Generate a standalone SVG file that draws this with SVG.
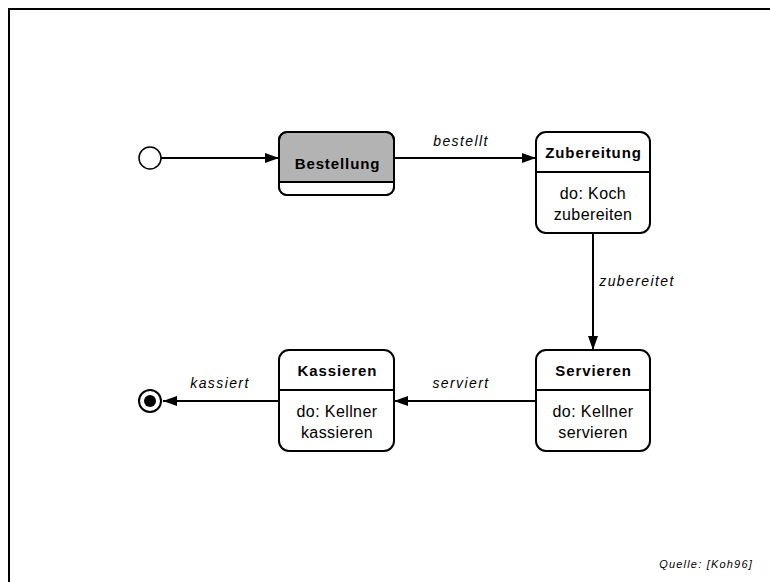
<svg xmlns="http://www.w3.org/2000/svg" width="770" height="582" viewBox="0 0 770 582">
  <defs>
    <marker id="arrow" viewBox="0 0 14 10" refX="14" refY="5" markerWidth="14" markerHeight="10" markerUnits="userSpaceOnUse" orient="auto">
      <path d="M0,0 L14,5 L0,10 Z" fill="#000"/>
    </marker>
  </defs>
  <style>
    .frame { fill: none; stroke: #000; stroke-width: 2; }
    .state { fill: #fff; stroke: #000; stroke-width: 2; }
    .active { fill: #b3b3b3; }
    .div { stroke: #000; stroke-width: 2; }
    .edge { fill: none; stroke: #000; stroke-width: 2; marker-end: url(#arrow); }
    .title { font-family: "Liberation Sans", Arial, sans-serif; font-size: 15px; font-weight: bold; text-anchor: middle; letter-spacing: 0.9px; }
    .body { font-family: "Liberation Sans", Arial, sans-serif; font-size: 16px; text-anchor: middle; letter-spacing: 0.4px; }
    .label { font-family: "Liberation Sans", Arial, sans-serif; font-size: 14px; font-style: italic; text-anchor: middle; letter-spacing: 1.4px; }
    .note { font-family: "Liberation Sans", Arial, sans-serif; font-size: 11px; font-style: italic; text-anchor: end; letter-spacing: 1.2px; }
  </style>
  <rect width="770" height="582" fill="#fff"/>
  <path class="frame" d="M9,582 L9,9 L770,9"/>

  <g id="connectors">
    <line class="edge" x1="161" y1="158" x2="279" y2="158"/>
    <line class="edge" x1="394" y1="158" x2="536" y2="158"/>
    <line class="edge" x1="593" y1="233" x2="593" y2="350"/>
    <line class="edge" x1="536" y1="401" x2="394" y2="401"/>
    <line class="edge" x1="279" y1="401" x2="163" y2="401"/>
    <text class="label" x="461" y="146">bestellt</text>
    <text class="label" x="637" y="286">zubereitet</text>
    <text class="label" x="461" y="388">serviert</text>
    <text class="label" x="220" y="388">kassiert</text>
  </g>

  <g id="initial">
    <circle cx="150" cy="158" r="11" fill="#fff" stroke="#000" stroke-width="1.5"/>
  </g>

  <g id="bestellung">
    <rect class="state active" x="279" y="132" width="115" height="63" rx="8"/>
    <path d="M280,183 L393,183 L393,187 Q393,194 386,194 L287,194 Q280,194 280,187 Z" fill="#fff"/>
    <rect x="279" y="132" width="115" height="63" rx="8" fill="none" stroke="#000" stroke-width="2"/>
    <line class="div" x1="278" y1="182" x2="395" y2="182"/>
    <text class="title" x="337.5" y="169">Bestellung</text>
  </g>

  <g id="zubereitung">
    <rect class="state" x="536" y="132" width="114" height="101" rx="10"/>
    <line class="div" x1="535" y1="172" x2="651" y2="172"/>
    <text class="title" x="593.5" y="158">Zubereitung</text>
    <text class="body" x="593" y="199">do: Koch</text>
    <text class="body" x="593" y="220">zubereiten</text>
  </g>

  <g id="servieren">
    <rect class="state" x="536" y="350" width="114" height="101" rx="10"/>
    <line class="div" x1="535" y1="390" x2="651" y2="390"/>
    <text class="title" x="593.5" y="376">Servieren</text>
    <text class="body" x="593" y="417">do: Kellner</text>
    <text class="body" x="593" y="438">servieren</text>
  </g>

  <g id="kassieren">
    <rect class="state" x="279" y="350" width="115" height="101" rx="10"/>
    <line class="div" x1="278" y1="390" x2="395" y2="390"/>
    <text class="title" x="337.5" y="376">Kassieren</text>
    <text class="body" x="337" y="417">do: Kellner</text>
    <text class="body" x="337" y="438">kassieren</text>
  </g>

  <g id="final">
    <circle cx="150" cy="401" r="11" fill="#fff" stroke="#000" stroke-width="2"/>
    <circle cx="150" cy="401" r="6" fill="#000"/>
  </g>

  <text class="note" x="753" y="568">Quelle: [Koh96]</text>
</svg>
